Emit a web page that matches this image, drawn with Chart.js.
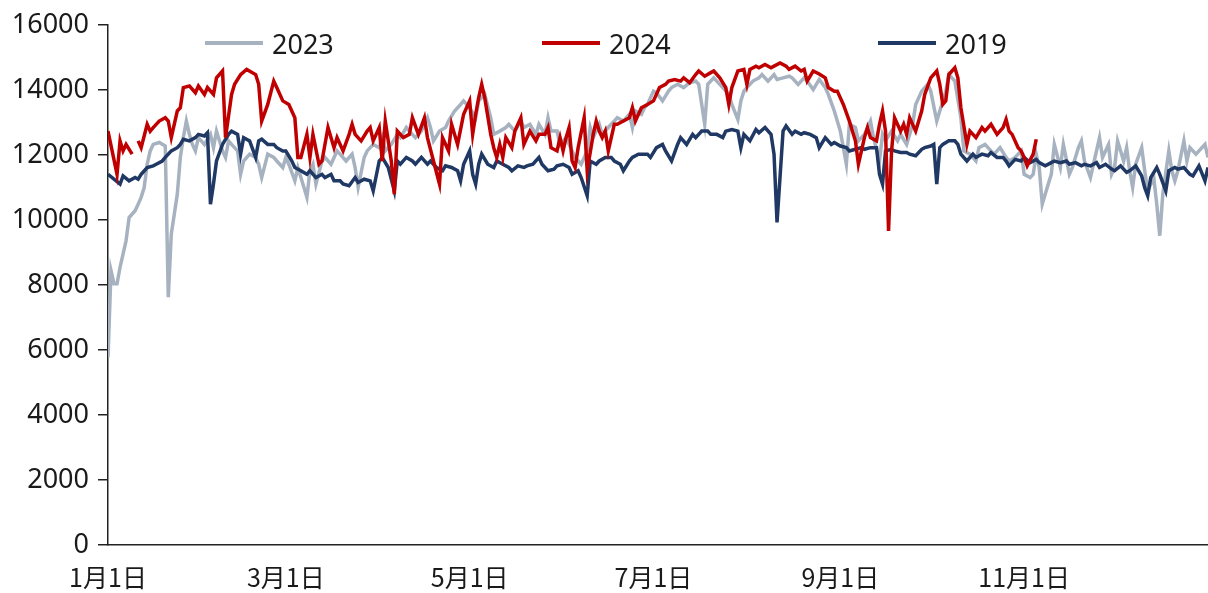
<!DOCTYPE html>
<html>
<head>
<meta charset="utf-8">
<script src="https://cdn.jsdelivr.net/npm/chart.js@4"></script>
<style>
	html, body { margin: 0; padding: 0; background: #fff; }
	#wrap { position: relative; width: 1208px; height: 593px; }
	.legend-item { position: absolute; top: 28px; height: 30px; display: flex; align-items: center;
		font-family: "Noto Sans", "Noto Sans CJK SC", sans-serif; font-size: 27px; color: #1a1a1a; }
	.legend-item span { display: inline-block; width: 58px; height: 4px; margin-right: 9px; }
</style>
</head>
<body>
<div id="wrap">
	<canvas id="chart"></canvas>
	<div class="legend-item" style="left:205px"><span style="background:#a6b2c0"></span>2023</div>
	<div class="legend-item" style="left:542px"><span style="background:#c00000"></span>2024</div>
	<div class="legend-item" style="left:878px"><span style="background:#203864"></span>2019</div>
</div>
<script>
// Day of year (0 = 1月1日) and values
const days2023 = [0,1,2,3,4,6,7,9,10,11,12,13,14,15,17,19,20,21,23,24,25,26,27,28,29,30,32,34,35,36,38,39,40,41,43,44,45,47,49,50,51,53,55,56,58,59,60,62,63,65,66,67,68,69,71,72,74,76,77,79,81,82,83,85,86,88,90,91,92,94,96,97,99,101,102,104,106,107,108,110,112,113,115,117,118,120,122,123,125,127,128,130,132,133,135,137,138,140,142,143,145,146,147,149,150,152,154,155,157,159,160,161,163,164,166,168,169,171,173,174,175,177,178,179,181,182,184,186,187,189,191,193,195,196,198,199,201,202,204,206,207,209,210,211,212,214,216,217,219,221,222,224,226,227,229,231,232,234,236,238,239,241,243,244,245,246,248,249,251,253,254,256,257,258,260,262,263,265,267,268,270,272,273,275,276,278,279,281,283,284,286,288,289,291,293,294,296,298,299,301,303,304,306,307,308,309,310,312,313,314,316,317,319,320,322,323,324,326,327,329,330,332,333,334,335,337,338,339,340,341,343,344,345,347,348,349,350,352,353,354,355,357,358,359,361,363,364,365];
const vals2023 = [5780,8450,8040,8040,8550,9370,10080,10290,10490,10700,11000,11720,12130,12330,12390,12280,7630,9570,10800,11930,12540,13050,12640,12330,12130,12540,12330,12640,12230,12740,12130,11930,12440,12330,12130,11410,11820,12030,11930,11720,11310,12030,11930,11820,11620,11930,11720,11210,11620,11010,10700,11520,11720,11110,11820,11930,11720,12130,12030,11820,12030,11620,11010,11930,12130,12330,12230,12540,12130,12330,12640,12540,12850,12640,12540,12740,13150,12850,12440,12740,12850,13050,13360,13560,13670,13460,13150,13670,13870,13150,12640,12740,12850,12950,12740,13050,12850,12950,12640,12950,12640,13150,12740,12740,12330,12540,12130,11930,11720,12130,12850,12540,12950,12640,12850,13050,13150,13050,13260,12850,13360,13260,13460,13560,13970,13920,13670,13970,14080,14180,14080,14230,14280,14180,12950,14180,14380,14280,14080,13870,13560,13100,13670,13970,14080,14280,14380,14480,14280,14480,14330,14380,14430,14380,14180,14380,14280,14020,14330,14080,13870,13360,12740,12230,11720,12950,12850,12440,12640,13050,12540,11820,12640,12440,12740,12440,12640,12330,12950,13560,13970,14180,13970,13050,13360,13970,14480,14280,13150,12130,12030,11820,12230,12330,12130,12030,12230,11930,11820,11930,12130,11410,11310,11410,12030,11620,10490,11110,11410,12330,11620,12330,11410,11620,12230,12440,11820,11310,11720,12540,11930,12330,11410,11620,12440,11820,12230,11520,11010,11720,12230,11520,10900,11310,10490,9520,10800,12130,11520,11210,11520,12440,11820,12230,12030,12230,12330,11930];

const days2024 = [0,3,4,5,6,8,9,10,11,13,14,15,17,19,20,21,23,24,25,27,29,30,32,33,35,36,38,39,41,42,44,46,49,50,51,53,55,56,58,60,62,63,64,66,67,68,70,71,73,75,76,78,80,81,82,84,86,87,88,90,91,92,94,95,96,98,100,101,103,105,106,108,110,111,113,114,116,118,120,121,122,123,124,125,127,128,129,130,131,132,134,135,137,138,140,142,143,145,146,147,149,150,151,152,153,154,155,156,158,159,161,162,163,164,165,166,168,169,171,173,174,175,177,179,181,183,185,186,188,190,191,193,195,196,198,200,201,203,205,206,207,209,211,212,213,215,216,218,220,221,223,225,226,228,230,231,232,234,236,238,239,241,242,244,246,247,248,249,251,252,253,255,256,257,258,259,260,261,263,264,265,266,268,270,271,273,275,276,277,278,279,281,282,283,285,286,288,290,291,293,295,297,298,299,300,302,303,304,305,307,308];
const vals2024 = [12740,11410,12440,12130,12330,12030,null,12440,12230,12950,12740,12850,13050,13150,13050,12540,13360,13460,14080,14130,13920,14130,13870,14080,13870,14380,14590,12540,13870,14180,14480,14640,14480,14180,13050,13560,14280,14080,13670,13560,13150,11930,11930,12640,11930,12640,11720,11820,12850,12230,12540,12130,12640,12950,12640,12440,12740,12850,12440,12850,11820,13050,11820,10800,12740,12540,12640,13150,12640,13150,12540,11820,11110,12540,12130,12950,12330,13260,13670,12640,13260,13770,14180,13770,12640,12230,11930,12330,11930,12540,12230,12740,13150,12330,12740,12440,12640,12640,12850,12230,12130,12540,12130,12540,12850,11820,11620,12230,13150,11520,12640,13050,12740,12540,12740,12130,12950,12950,13050,13150,13460,13050,13460,13560,13670,14080,14180,14280,14330,14280,14380,14230,14480,14590,14430,14540,14590,14380,14080,13560,14080,14590,14640,14180,14640,14740,14690,14790,14690,14740,14840,14740,14640,14740,14590,14640,14280,14590,14500,14380,14080,13970,13970,13560,13050,12740,12440,11720,12540,12850,12540,12440,12950,13360,12740,9670,12130,13150,12740,12950,12640,13150,12740,13360,13870,14380,14590,14180,13560,13670,14480,14690,14380,13460,12330,12740,12540,12850,12740,12950,12640,12850,13100,12740,12640,12230,12130,11930,11670,12030,12490];

const days2019 = [0,2,4,5,7,9,10,11,13,15,16,18,19,21,23,24,25,27,29,30,32,33,34,35,36,38,40,41,43,44,45,47,49,50,51,53,55,56,58,59,61,62,64,66,67,69,71,72,74,75,77,78,80,82,83,85,87,88,90,91,93,95,96,97,99,101,102,104,106,107,109,111,112,114,116,117,118,120,121,122,123,124,126,128,129,131,133,134,136,138,139,141,143,144,146,148,149,151,153,154,156,157,159,160,162,163,165,167,168,170,171,173,174,176,178,179,180,182,184,185,187,189,190,192,194,195,197,199,200,202,204,205,207,209,210,211,213,215,216,218,220,221,222,224,225,227,228,230,231,233,235,236,238,240,241,243,245,246,248,250,251,253,255,256,257,258,260,261,263,265,266,268,270,271,273,274,275,276,277,279,281,282,283,285,287,288,290,292,293,295,297,298,299,301,303,304,306,308,309,311,313,314,316,318,319,321,323,324,326,328,329,331,333,334,336,338,339,341,343,344,345,346,348,349,351,352,354,355,357,359,360,362,364,365];
const vals2019 = [11410,11260,11110,11360,11210,11310,11260,11410,11620,11670,11720,11820,11930,12130,12230,12330,12490,12440,12540,12640,12590,12690,10490,11110,11820,12330,12640,12740,12640,12030,12540,12440,11930,12440,12490,12330,12330,12230,12130,12130,11820,11620,11520,11410,11520,11310,11410,11310,11410,11210,11210,11110,11060,11310,11160,11260,11210,10900,11820,11930,11620,10900,11820,11720,11930,11820,11720,11930,11720,11820,11620,11520,11670,11620,11520,11210,11720,12130,11410,11110,11720,12030,11720,11620,11820,11720,11620,11520,11670,11620,11670,11720,11930,11720,11520,11570,11670,11720,11620,11410,11520,11310,10750,11820,11720,11820,11930,11930,11820,11720,11520,11820,11930,12030,12030,12030,11930,12230,12330,12130,11820,12330,12540,12330,12640,12540,12740,12740,12640,12640,12540,12740,12790,12740,12230,12640,12440,12790,12690,12850,12640,12030,9930,12740,12900,12640,12740,12640,12690,12640,12540,12230,12540,12330,12390,12280,12230,12130,12180,12230,12180,12230,12230,11410,11110,12130,12180,12130,12080,12080,12030,11980,12180,12230,12280,12330,11110,12230,12330,12440,12440,12330,12030,11820,12030,11930,12030,11980,12080,11930,11930,11820,11670,11870,11820,11930,11770,11870,11770,11670,11770,11820,11770,11820,11720,11770,11670,11720,11670,11770,11620,11720,11570,11520,11670,11470,11520,11670,11360,11000,10750,11310,11620,11410,10900,11520,11620,11570,11620,11410,11360,11670,11210,11620];

// X axis ticks
const tickDays = [0, 59, 120, 181, 243, 304];
const tickLabels = ['1月1日', '3月1日', '5月1日', '7月1日', '9月1日', '11月1日'];

const textColor = '#1a1a1a';
const axisColor = '#222';

function toPoints(days, vals) {
	return days.map((d, i) => ({ x: d, y: vals[i] }));
}

function makeSeries(label, days, vals, color, order) {
	return {
		label: label,
		data: toPoints(days, vals),
		borderColor: color,
		backgroundColor: color,
		borderWidth: 3.5,
		pointRadius: 0,
		tension: 0,
		spanGaps: false,
		order: order,
	};
}

window.onload = () => {
	let context = document.querySelector('#chart');

	new Chart(context, {
		type: 'line',
		data: {
			datasets: [
				makeSeries('2023', days2023, vals2023, '#a6b2c0', 3),
				makeSeries('2024', days2024, vals2024, '#c00000', 1),
				makeSeries('2019', days2019, vals2019, '#203864', 2),
			]
		},
		options: {
			responsive: true,
			maintainAspectRatio: false,
			animation: false,
			layout: { padding: { top: 24, right: 0, bottom: 0, left: 0 } },
			plugins: {
				legend: { display: false },
				tooltip: { enabled: false },
			},
			scales: {
				x: {
					type: 'linear',
					min: 0,
					max: 365,
					afterBuildTicks: (axis) => {
						axis.ticks = tickDays.map(v => ({ value: v }));
					},
					afterFit: (axis) => { axis.height = 48; },
					grid: { display: true, drawOnChartArea: false, drawTicks: false },
					border: { display: true, color: axisColor, width: 1.5 },
					ticks: {
						autoSkip: false,
						maxRotation: 0,
						padding: 17,
						color: textColor,
						font: { family: '"Noto Sans CJK SC", sans-serif', size: 25 },
						callback: (value) => tickLabels[tickDays.indexOf(value)],
					},
				},
				y: {
					min: 0,
					max: 16000,
					afterFit: (axis) => { axis.width = 108; },
					grid: { display: true, drawOnChartArea: false, drawTicks: true, tickLength: 10, color: axisColor, lineWidth: 1.5 },
					border: { display: true, color: axisColor, width: 1.5 },
					ticks: {
						stepSize: 2000,
						padding: 9,
						color: textColor,
						font: { family: '"Noto Sans", sans-serif', size: 27 },
						callback: (value) => String(value),
					},
				},
			},
		},
	});
};
</script>
</body>
</html>
